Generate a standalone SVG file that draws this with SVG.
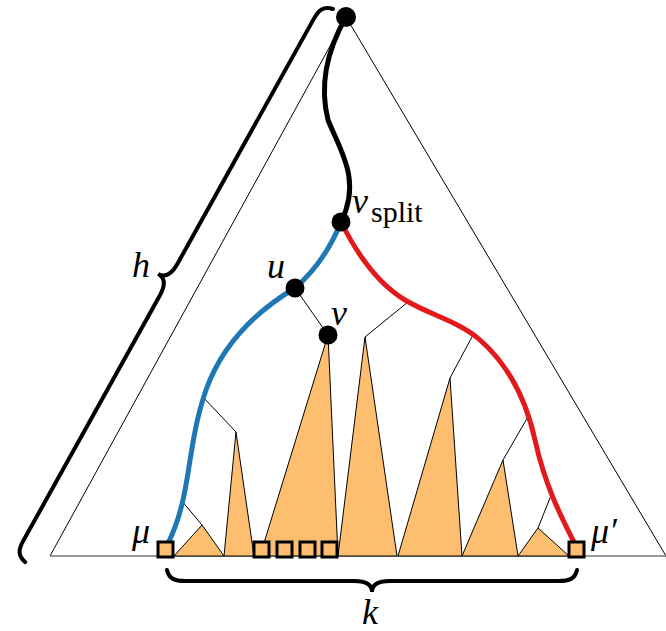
<svg xmlns="http://www.w3.org/2000/svg" width="666" height="631" viewBox="0 0 666 631">
<style>
.thin{fill:none;stroke:#000;stroke-width:1}
.tri{fill:#fdbf6f;stroke:#000;stroke-width:1;stroke-linejoin:round}
.sq{fill:#fdbf6f;stroke:#000;stroke-width:3}
.node{fill:#000}
.path{fill:none;stroke-width:5;stroke-linecap:round}
.brace{fill:none;stroke:#000;stroke-width:4;stroke-linecap:round}
.lbl{font-family:"Liberation Serif","DejaVu Serif",serif;font-style:italic;font-size:36px;fill:#000}
.sub{font-family:"Liberation Serif","DejaVu Serif",serif;font-size:30px;fill:#000}
</style>
<rect width="666" height="631" fill="#fff"/>
<g id="outer-triangle">
<path d="M50,556 L346,17 L666,556" class="thin"/>
<line x1="50" y1="556" x2="666" y2="556" stroke="#777" stroke-width="1.5"/>
</g>
<g id="subtrees">
<polygon class="tri" points="202,525 174,556 224,556"/>
<polygon class="tri" points="236,432 224,556 254,556"/>
<polygon class="tri" points="328,335 260,556 338,556"/>
<polygon class="tri" points="365,337 338,556 397,556"/>
<polygon class="tri" points="450,378 398,556 462,556"/>
<polygon class="tri" points="503,460 462,556 518,556"/>
<polygon class="tri" points="538,528 518,556 569,556"/>
</g>
<g id="connectors">
<line class="thin" x1="295" y1="288" x2="328" y2="335"/>
<line class="thin" x1="408" y1="302" x2="365" y2="337"/>
<line class="thin" x1="473" y1="335" x2="450" y2="378"/>
<line class="thin" x1="529" y1="415" x2="503" y2="460"/>
<line class="thin" x1="552" y1="493" x2="538" y2="528"/>
<line class="thin" x1="203" y1="397" x2="236" y2="432"/>
<line class="thin" x1="181" y1="500" x2="202" y2="525"/>
<path class="path" stroke="#000" d="M346,17 C330,45 318,80 328,120 C340,150 362,180 341,222"/>
<path class="path" stroke="#1f78b4" d="M341,222 Q325,262 295,288 C255,312 222,345 206,390 C192,430 190,470 183,500 C178,522 172,535 166,548"/>
<path class="path" stroke="#e31a1c" d="M341,222 C355,250 375,282 405,300 C430,315 460,322 480,340 C505,362 525,395 535,440 C545,485 560,515 577,548"/>
</g>
<g id="leaves">
<rect class="sq" x="158" y="542" width="15" height="15"/>
<rect class="sq" x="254" y="542" width="15" height="15"/>
<rect class="sq" x="277" y="542" width="15" height="15"/>
<rect class="sq" x="300" y="542" width="15" height="15"/>
<rect class="sq" x="322" y="542" width="15" height="15"/>
<rect class="sq" x="569" y="542" width="15" height="15"/>
</g>
<g id="node-root"><circle class="node" cx="346" cy="17" r="10"/></g>
<g id="node-vsplit"><circle class="node" cx="341" cy="222" r="9.5"/></g>
<g id="node-u"><circle class="node" cx="295" cy="288" r="9.5"/></g>
<g id="node-v"><circle class="node" cx="328" cy="335" r="9.5"/></g>
<g id="brace-h" transform="translate(333,9) rotate(119.1)">
<path class="brace" d="M0,0 C2,10 8,12 18,12 L298.5,12 C310.5,12 316.5,16 316.5,24 C316.5,16 322.5,12 334.5,12 L615,12 C625,12 631,10 633,0"/>
</g>
<g id="brace-k" transform="translate(167,570)">
<path class="brace" d="M0,0 C2,9 8,11 18,11 L187,11 C199,11 205,15 205,22 C205,15 211,11 223,11 L392,11 C402,11 408,9 410,0"/>
</g>
<g id="labels">
<text class="lbl" x="132" y="277">h</text>
<text class="lbl" x="352" y="213">v</text>
<text class="sub" x="371" y="222">split</text>
<text class="lbl" x="267" y="278">u</text>
<text class="lbl" x="331" y="325">v</text>
<text class="lbl" x="132" y="543">μ</text>
<text class="lbl" x="591" y="543">μ′</text>
<text class="lbl" x="362" y="624">k</text>
</g>
</svg>
